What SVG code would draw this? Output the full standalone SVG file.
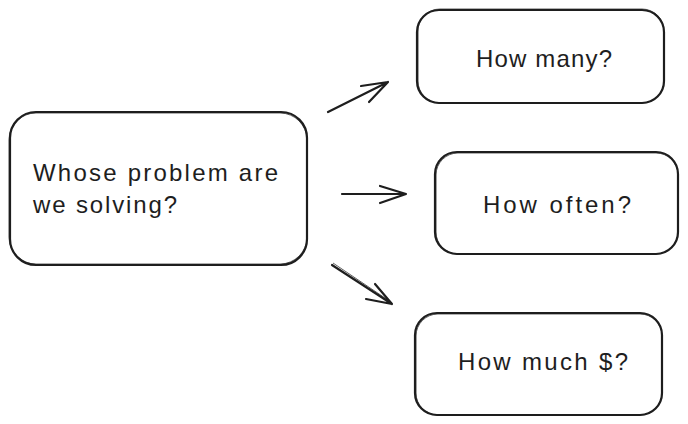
<svg xmlns="http://www.w3.org/2000/svg" width="688" height="424" viewBox="0 0 688 424">
<style>
.box{fill:#ffffff;stroke:#1e1e1e;stroke-width:2.2;}
.sk{fill:none;stroke:#1e1e1e;stroke-width:1;opacity:0.7;}
.arr{fill:none;stroke:#1e1e1e;stroke-width:2.2;stroke-linecap:round;stroke-linejoin:round;}
.t{font-family:"Liberation Sans",Arial,sans-serif;font-size:24px;fill:#1e1e1e;}
</style>
<rect width="688" height="424" fill="#ffffff"/>
<g id="connectors">
<path class="arr" d="M328,112 L388,82 M361,86 L388,82 L369,102"/>
<path class="arr" d="M342,194 L406,194 M380,186 L406,194 L380,203"/>
<path class="arr" d="M332,265 L392,304 M375,284 L392,304 L366,299"/>
<path class="sk" d="M333,263 L391,302"/>
</g>
<g id="node-main">
<rect class="box" x="10" y="112" width="297" height="153" rx="26"/>
<rect class="sk" x="9" y="113" width="298" height="151" rx="27"/>
<text class="t" x="33" y="181" textLength="245" lengthAdjust="spacing">Whose problem are</text>
<text class="t" x="33" y="213" textLength="144" lengthAdjust="spacing">we solving?</text>
</g>
<g id="node-many">
<rect class="box" x="417" y="10" width="247" height="93" rx="22"/>
<rect class="sk" x="418" y="9" width="246" height="94" rx="22"/>
<text class="t" x="476" y="67" textLength="136" lengthAdjust="spacing">How many?</text>
</g>
<g id="node-often">
<rect class="box" x="435" y="152" width="243" height="102" rx="22"/>
<rect class="sk" x="436" y="153" width="242" height="101" rx="22"/>
<text class="t" x="483" y="213" textLength="148" lengthAdjust="spacing">How often?</text>
</g>
<g id="node-much">
<rect class="box" x="415" y="313" width="247" height="102" rx="22"/>
<rect class="sk" x="416" y="314" width="246" height="101" rx="22"/>
<text class="t" x="458" y="370" textLength="170" lengthAdjust="spacing">How much $?</text>
</g>
</svg>
